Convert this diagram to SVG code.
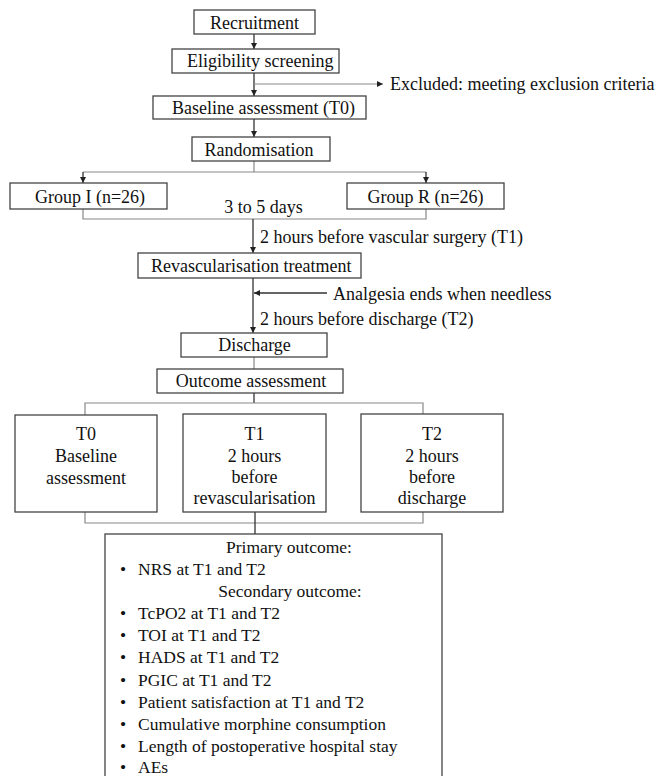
<svg xmlns="http://www.w3.org/2000/svg" width="662" height="776" viewBox="0 0 662 776">
<style>
.box{fill:#fff;stroke:#444;stroke-width:1.3}
.t{font-family:"Liberation Serif","Times New Roman",serif;font-size:18px;fill:#111}
.c{text-anchor:middle}
.s{font-size:17.5px}
.ln{fill:none;stroke:#333;stroke-width:1.3}
.gl{fill:none;stroke:#888;stroke-width:1.2}
</style>
<defs>
<marker id="ah" viewBox="0 0 10 10" refX="10" refY="5" markerWidth="6" markerHeight="6" markerUnits="userSpaceOnUse" orient="auto">
<path d="M0,0 L10,5 L0,10 Z" fill="#222"/>
</marker>
</defs>
<rect width="662" height="776" fill="#fff"/>
<g id="connectors">
<line class="ln" x1="254" y1="34" x2="254" y2="49" marker-end="url(#ah)"/>
<line class="ln" x1="254" y1="73" x2="254" y2="96" marker-end="url(#ah)"/>
<line class="gl" x1="254" y1="84" x2="383" y2="84" marker-end="url(#ah)"/>
<line class="ln" x1="254" y1="119" x2="254" y2="137" marker-end="url(#ah)"/>
<polyline class="gl" points="254,161 254,172"/>
<line class="gl" x1="83" y1="172" x2="426" y2="172"/>
<line class="ln" x1="83" y1="172" x2="83" y2="183" marker-end="url(#ah)"/>
<line class="ln" x1="426" y1="172" x2="426" y2="183" marker-end="url(#ah)"/>
<polyline class="gl" points="83,209 83,219 426,219 426,209"/>
<line class="ln" x1="253" y1="219" x2="253" y2="253" marker-end="url(#ah)"/>
<line class="ln" x1="253" y1="278" x2="253" y2="333" marker-end="url(#ah)"/>
<line class="ln" x1="327" y1="293" x2="254" y2="293" marker-end="url(#ah)"/>
<line class="gl" x1="254" y1="357" x2="254" y2="369"/>
<line class="ln" x1="254" y1="393" x2="254" y2="403"/>
<polyline class="gl" points="85,415 85,403 423,403 423,415"/>
<polyline class="gl" points="85,512 85,523 423,523 423,512"/>
<line class="ln" x1="255" y1="512" x2="255" y2="534"/>
</g>
<g id="recruitment">
<rect class="box" x="194" y="10" width="121" height="24"/>
<text class="t c" x="254.5" y="28.5">Recruitment</text>
</g>
<g id="eligibility">
<rect class="box" x="172" y="49" width="167" height="24"/>
<text class="t" x="187" y="67">Eligibility screening</text>
</g>
<g id="excluded">
<text class="t" x="390" y="90">Excluded: meeting exclusion criteria</text>
</g>
<g id="baseline">
<rect class="box" x="153" y="96" width="213" height="23"/>
<text class="t" x="172" y="113.5">Baseline assessment (T0)</text>
</g>
<g id="randomisation">
<rect class="box" x="192" y="137" width="138" height="24"/>
<text class="t c" x="259" y="155.5">Randomisation</text>
</g>
<g id="groupI">
<rect class="box" x="10" y="183" width="157" height="26"/>
<text class="t c" x="90" y="202.5">Group I (n=26)</text>
</g>
<g id="groupR">
<rect class="box" x="347" y="183" width="157" height="26"/>
<text class="t c" x="425.5" y="202.5">Group R (n=26)</text>
</g>
<g id="labels">
<text class="t c" x="263.5" y="213">3 to 5 days</text>
<text class="t" x="260" y="243">2 hours before vascular surgery (T1)</text>
<text class="t" x="333" y="300">Analgesia ends when needless</text>
<text class="t" x="260" y="325">2 hours before discharge (T2)</text>
</g>
<g id="revascularisation">
<rect class="box" x="138" y="253" width="223" height="25"/>
<text class="t" x="151" y="272">Revascularisation treatment</text>
</g>
<g id="discharge">
<rect class="box" x="181" y="333" width="146" height="24"/>
<text class="t c" x="254.5" y="351">Discharge</text>
</g>
<g id="outcome">
<rect class="box" x="157" y="369" width="186" height="24"/>
<text class="t c" x="251" y="387">Outcome assessment</text>
</g>
<g id="t0">
<rect class="box" x="15" y="415" width="142" height="97"/>
<text class="t c" x="86" y="440">T0</text>
<text class="t c" x="86" y="462">Baseline</text>
<text class="t c" x="86" y="483.5">assessment</text>
</g>
<g id="t1">
<rect class="box" x="183" y="414" width="143" height="98"/>
<text class="t c" x="254.5" y="440">T1</text>
<text class="t c" x="254.5" y="461.5">2 hours</text>
<text class="t c" x="254.5" y="482.5">before</text>
<text class="t c" x="254.5" y="503.5">revascularisation</text>
</g>
<g id="t2">
<rect class="box" x="361" y="414" width="142" height="98"/>
<text class="t c" x="432" y="440">T2</text>
<text class="t c" x="432" y="461.5">2 hours</text>
<text class="t c" x="432" y="482.5">before</text>
<text class="t c" x="432" y="503.5">discharge</text>
</g>
<g id="outcomes">
<rect class="box" x="105" y="534" width="337" height="280"/>
<text class="t s c" x="289" y="553">Primary outcome:</text>
<text class="t s" x="120" y="575">•</text><text class="t s" x="138" y="575">NRS at T1 and T2</text>
<text class="t s c" x="290" y="597">Secondary outcome:</text>
<text class="t s" x="120" y="619">•</text><text class="t s" x="138" y="619">TcPO2 at T1 and T2</text>
<text class="t s" x="120" y="641">•</text><text class="t s" x="138" y="641">TOI at T1 and T2</text>
<text class="t s" x="120" y="663">•</text><text class="t s" x="138" y="663">HADS at T1 and T2</text>
<text class="t s" x="120" y="685.5">•</text><text class="t s" x="138" y="685.5">PGIC at T1 and T2</text>
<text class="t s" x="120" y="707.5">•</text><text class="t s" x="138" y="707.5">Patient satisfaction at T1 and T2</text>
<text class="t s" x="120" y="729.5">•</text><text class="t s" x="138" y="729.5">Cumulative morphine consumption</text>
<text class="t s" x="120" y="751.5">•</text><text class="t s" x="138" y="751.5">Length of postoperative hospital stay</text>
<text class="t s" x="120" y="773">•</text><text class="t s" x="138" y="773">AEs</text>
</g>
</svg>
